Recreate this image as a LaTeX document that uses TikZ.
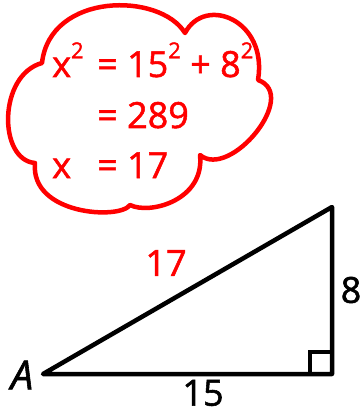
\documentclass[tikz,border=0pt]{standalone}
\usepackage{fontspec}
\setmainfont{Open Sans}[FakeBold=1.5,ItalicFeatures={FakeBold=1.5}]
\usepackage{tikz}
\usetikzlibrary{positioning,calc}
\newcommand{\sqr}{\raisebox{0.52em}{\fontsize{22}{22}\selectfont 2}}

\begin{document}
\begin{tikzpicture}[x=1pt,y=-1pt,
  cloudline/.style={red,line width=4.5pt,line join=round,line cap=round},
  sideline/.style={black,line width=4.5pt,line join=round},
  eqtext/.style={red,font=\fontsize{36}{40}\selectfont,inner sep=0pt,anchor=base west},
  sidelabel/.style={font=\fontsize{36}{40}\selectfont,inner sep=0pt}]
\useasboundingbox (0,0) rectangle (362,414);
% the thought cloud
\draw[cloudline] (42,63) .. controls (-2,75) and (-2,160) .. (35,163)
  .. controls (30,215) and (120,220) .. (130,205)
  .. controls (150,215) and (205,200) .. (200,155)
  .. controls (230,180) and (300,95) .. (258,80)
  .. controls (268,20) and (205,-5) .. (185,33)
  .. controls (160,-8) and (50,-8) .. (42,63) -- cycle;
% working inside the cloud
\node[eqtext] (lhs1) at (52,77) {x\sqr};
\node[eqtext] (rhs1) at (97,77) {= 15\sqr{} + 8\sqr};
\node[eqtext] (rhs2) at (97,128) {= 289};
\node[eqtext] (lhs3) at (52,178) {x};
\node[eqtext] (rhs3) at (97,178) {= 17};
% the triangle
\coordinate (A) at (43,374);
\coordinate (B) at (332,374);
\coordinate (C) at (332,207);
\draw[sideline] (A) -- (B) -- (C) -- cycle;
\draw[line width=3.5pt] ($(B)+(-22,0)$) |- ($(B)+(0,-22)$);
\node[sidelabel,red] (hyp) at (166,263) {17};
\node[sidelabel] (leg) at (351,290) {8};
\node[sidelabel] (base) at (203,393) {15};
\node[sidelabel,font=\fontsize{40}{44}\selectfont\itshape] (vA) at (22,375) {A};
\end{tikzpicture}
\end{document}
